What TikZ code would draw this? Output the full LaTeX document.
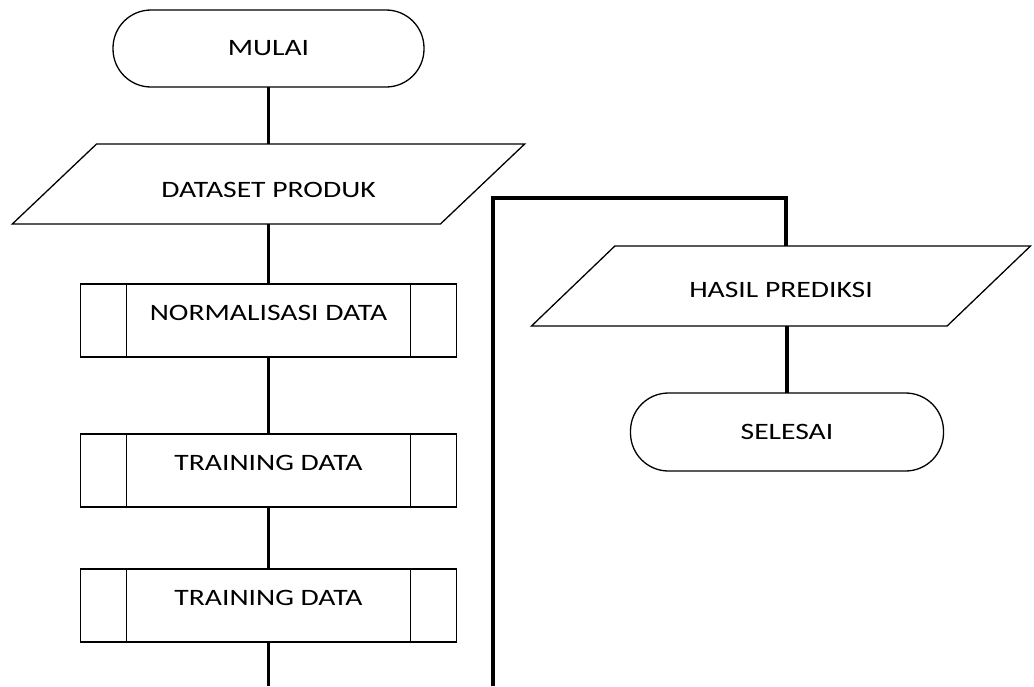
\documentclass[tikz,border=0pt]{standalone}
\usepackage{fontspec}
\setmainfont{Carlito}[FakeStretch=1.26]
\usepackage{tikz}
\usetikzlibrary{positioning}
\usetikzlibrary{shapes.geometric}

\begin{document}
\begin{tikzpicture}[x=1pt, y=1pt,
terminalnode/.style={rectangle, draw=black, line width=1.3pt, rounded corners=38pt, minimum width=311pt, minimum height=77pt, outer sep=0pt, font=\fontsize{23.5}{28}\selectfont},
datanode/.style={trapezium, trapezium left angle=32, trapezium right angle=148, trapezium stretches=true, draw=black, line width=1.3pt, minimum height=80pt, outer sep=0pt, font=\fontsize{23.5}{28}\selectfont},
procnode/.style={rectangle, draw=black, line width=1.3pt, minimum width=376pt, minimum height=73pt, outer sep=0pt, text depth=16pt, font=\fontsize{23.5}{28}\selectfont,
  path picture={
    \draw[line width=1.3pt] ([xshift=46pt]path picture bounding box.north west) -- ([xshift=46pt]path picture bounding box.south west);
    \draw[line width=1.3pt] ([xshift=-46pt]path picture bounding box.north east) -- ([xshift=-46pt]path picture bounding box.south east);
  }},
flowline/.style={draw=black, line width=3.2pt},
]

\useasboundingbox (0,0) rectangle (1034,-686);

% Left column: start, input and processes
\node[terminalnode]     (mulai)       at (268.5,-48.5)              {MULAI};
\node[datanode, minimum width=515pt, text height=27pt] (dataset) [below=57pt of mulai] {DATASET PRODUK};
\node[procnode]         (normalisasi) [below=60pt of dataset]       {NORMALISASI DATA};
\node[procnode]         (training1)   [below=77pt of normalisasi]   {TRAINING DATA};
\node[procnode]         (training2)   [below=62pt of training1]     {TRAINING DATA};

% Right column: output and end
\node[datanode, minimum width=500pt, text height=23pt] (hasil) at (781,-286) {HASIL PREDIKSI};
\node[terminalnode, minimum width=313pt, minimum height=78pt] (selesai) at (787,-432) {SELESAI};

% Free ends and corners of the connector
\coordinate (bawahkiri)  at (268.5,-686);
\coordinate (bawahkanan) at (493,-686);
\coordinate (sudutkiri)  at (493,-198);
\coordinate (sudutkanan) at (786,-198);

\draw[flowline] (mulai.south) -- (dataset.north);
\draw[flowline] (dataset.south) -- (normalisasi.north);
\draw[flowline] (normalisasi.south) -- (training1.north);
\draw[flowline] (training1.south) -- (training2.north);
\draw[flowline] (training2.south) -- (bawahkiri);
\draw[flowline] (bawahkanan) -- (sudutkiri) -- (sudutkanan) -- (sudutkanan |- hasil.north);
\draw[flowline] (selesai.north |- hasil.south) -- (selesai.north);
\end{tikzpicture}
\end{document}
